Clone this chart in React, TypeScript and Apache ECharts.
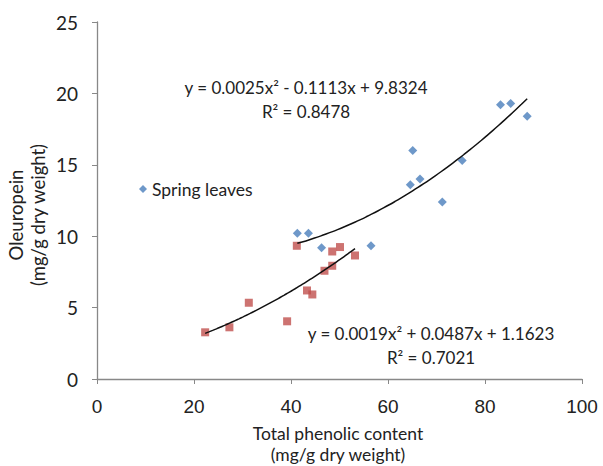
import React, { useEffect, useRef } from "react";
import * as echarts from "echarts";

const springX = [41.3, 43.6, 46.3, 56.5, 65.1, 64.6, 66.6, 71.2, 75.3, 83.2, 85.3, 88.7];
const springY = [10.2, 10.2, 9.19, 9.33, 16.0, 13.6, 14.0, 12.4, 15.3, 19.2, 19.3, 18.4];
const otherX = [22.3, 27.3, 31.3, 39.2, 41.2, 43.3, 44.4, 46.9, 48.5, 48.5, 50.1, 53.2];
const otherY = [3.27, 3.62, 5.34, 4.04, 9.33, 6.2, 5.92, 7.58, 7.93, 8.93, 9.24, 8.65];

// trend line coefficients [a, b, c] for y = a x^2 + b x + c, as printed on the chart
const springFit = [0.0025, -0.1113, 9.8324];
const otherFit = [0.0019, 0.0487, 1.1623];

const xTicks = [0, 20, 40, 60, 80, 100];
const yTicks = [0, 5, 10, 15, 20, 25];

const eq1 = "y = 0.0025x² - 0.1113x + 9.8324";
const r1 = "R² = 0.8478";
const eq2 = "y = 0.0019x² + 0.0487x + 1.1623";
const r2 = "R² = 0.7021";

function fitCurve(coef: number[], xs: number[]) {
  const lo = Math.min(...xs);
  const hi = Math.max(...xs);
  const pts: number[][] = [];
  const n = 40;
  for (let i = 0; i <= n; i++) {
    const x = lo + ((hi - lo) * i) / n;
    pts.push([x, coef[0] * x * x + coef[1] * x + coef[2]]);
  }
  return pts;
}

export default function App() {
  const ref = useRef<HTMLDivElement>(null);
  useEffect(() => {
    if (!ref.current) return;
    const chart = echarts.init(ref.current, null, { renderer: "svg" });
    const font = "Lato, 'Open Sans', sans-serif";
    chart.setOption({
      animation: false,
      backgroundColor: "#ffffff",
      grid: { left: 97, right: 21, top: 22, bottom: 87, containLabel: false },
      legend: {
        data: [{ name: "Spring leaves", icon: "diamond" }],
        left: 134,
        top: 175,
        itemWidth: 8,
        itemHeight: 8,
        itemGap: 6,
        textStyle: { fontFamily: font, fontSize: 17.5, color: "#222" },
      },
      xAxis: {
        type: "value",
        min: 0,
        max: 100,
        interval: 20,
        splitLine: { show: false },
        axisLine: { lineStyle: { color: "#888", width: 1.3 } },
        axisTick: { show: true, length: 5, lineStyle: { color: "#888" } },
        axisLabel: {
          fontFamily: "'Liberation Sans', Arial, sans-serif",
          fontSize: 19,
          color: "#222",
          margin: 18,
          customValues: xTicks,
        },
      },
      yAxis: {
        type: "value",
        min: 0,
        max: 25,
        interval: 5,
        splitLine: { show: false },
        axisLine: { show: true, lineStyle: { color: "#888", width: 1.3 } },
        axisTick: { show: true, length: 5, lineStyle: { color: "#888" } },
        axisLabel: {
          fontFamily: font,
          fontSize: 19,
          color: "#222",
          margin: 19,
          customValues: yTicks,
        },
      },
      graphic: [
        {
          type: "text",
          x: 27,
          y: 215,
          rotation: Math.PI / 2,
          style: {
            text: "Oleuropein\n(mg/g dry weight)",
            fontFamily: font,
            fontSize: 18.5,
            lineHeight: 22,
            fill: "#222",
            align: "center",
            verticalAlign: "middle",
          },
        },
        {
          type: "text",
          x: 338,
          y: 444,
          style: {
            text: "Total phenolic content\n(mg/g dry weight)",
            fontFamily: font,
            fontSize: 17.5,
            lineHeight: 21,
            fill: "#222",
            align: "center",
            verticalAlign: "middle",
          },
        },
        {
          type: "text",
          x: 306,
          y: 87,
          style: { text: eq1, fontFamily: font, fontSize: 17, fill: "#222", align: "center", verticalAlign: "middle" },
        },
        {
          type: "text",
          x: 306,
          y: 111,
          style: { text: r1, fontFamily: font, fontSize: 17, fill: "#222", align: "center", verticalAlign: "middle" },
        },
        {
          type: "text",
          x: 431,
          y: 333,
          style: { text: eq2, fontFamily: font, fontSize: 17, fill: "#222", align: "center", verticalAlign: "middle" },
        },
        {
          type: "text",
          x: 431,
          y: 357,
          style: { text: r2, fontFamily: font, fontSize: 17, fill: "#222", align: "center", verticalAlign: "middle" },
        },
      ],
      series: [
        {
          name: "Spring leaves fit",
          type: "line",
          data: fitCurve(springFit, springX),
          showSymbol: false,
          smooth: true,
          lineStyle: { color: "#111", width: 1.5 },
          z: 3,
        },
        {
          name: "Other leaves fit",
          type: "line",
          data: fitCurve(otherFit, otherX),
          showSymbol: false,
          smooth: true,
          lineStyle: { color: "#111", width: 1.5 },
          z: 3,
        },
        {
          name: "Spring leaves",
          type: "scatter",
          symbol: "diamond",
          symbolSize: 9,
          itemStyle: { color: "#4a7ebb" },
          data: springX.map((x, i) => [x, springY[i]]),
          z: 2,
        },
        {
          name: "Other leaves",
          type: "scatter",
          symbol: "rect",
          symbolSize: 8,
          itemStyle: { color: "#c0504d" },
          data: otherX.map((x, i) => [x, otherY[i]]),
          z: 2,
        },
      ],
    });
    return () => chart.dispose();
  }, []);
  return (
    <div
      ref={ref}
      style={{ position: "absolute", left: 0, top: 0, width: 603, height: 466 }}
    />
  );
}
